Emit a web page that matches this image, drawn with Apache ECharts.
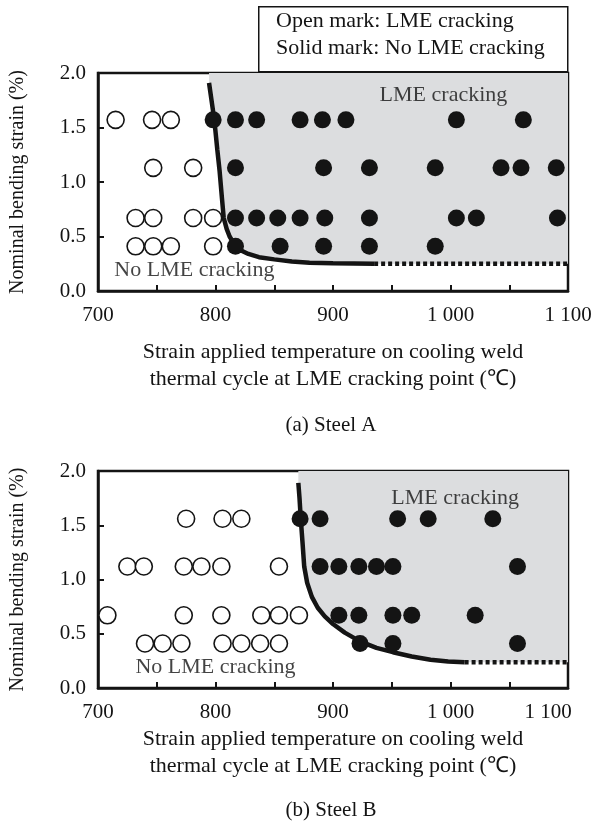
<!DOCTYPE html>
<html>
<head>
<meta charset="utf-8">
<script src="https://cdn.jsdelivr.net/npm/echarts@6/dist/echarts.min.js"></script>
<style>
html,body{margin:0;padding:0;background:#fff;}
#main{width:609px;height:825px;}
</style>
</head>
<body>
<div id="main"></div>
<script>
// Steel A: open mark (temperature, strain)
var openA = [[715,1.57],[746,1.57],[762,1.57],
  [747,1.13],[781,1.13],
  [732,0.67],[747,0.67],[781,0.67],[798,0.67],
  [732,0.41],[747,0.41],[762,0.41],[798,0.41]];
// Steel A: solid mark
var solidA = [[798,1.57],[817,1.57],[835,1.57],[872,1.57],[891,1.57],[911,1.57],[1005,1.57],[1062,1.57],
  [817,1.13],[892,1.13],[931,1.13],[987,1.13],[1043,1.13],[1060,1.13],[1090,1.13],
  [817,0.67],[835,0.67],[853,0.67],[872,0.67],[893,0.67],[931,0.67],[1005,0.67],[1022,0.67],[1091,0.67],
  [817,0.41],[855,0.41],[892,0.41],[931,0.41],[987,0.41]];
// Steel A: boundary curve and dotted limit
var curveA = [[794.5,1.91],[797,1.72],[799,1.57],[801.5,1.3],[803.5,1.1],[805.5,0.85],[807,0.67],
  [809.5,0.57],[812,0.5],[816,0.43],[820,0.38],[828,0.34],[837,0.31],[850,0.29],[865,0.27],
  [880,0.26],[900,0.254],[935,0.25]];
var dashA = [[935,0.25],[1100,0.25]];

// Steel B: open mark
var openB = [[775,1.56],[806,1.56],[822,1.56],
  [725,1.12],[739,1.12],[773,1.12],[788,1.12],[805,1.12],[854,1.12],
  [708,0.67],[773,0.67],[805,0.67],[839,0.67],[854,0.67],[871,0.67],
  [740,0.41],[755,0.41],[771,0.41],[806,0.41],[822,0.41],[838,0.41],[854,0.41]];
// Steel B: solid mark
var solidB = [[872,1.56],[889,1.56],[955,1.56],[981,1.56],[1036,1.56],
  [889,1.12],[905,1.12],[922,1.12],[937,1.12],[951,1.12],[1057,1.12],
  [905,0.67],[922,0.67],[951,0.67],[967,0.67],[1021,0.67],
  [923,0.41],[951,0.41],[1057,0.41]];
var curveB = [[870.5,1.89],[871.5,1.75],[872.5,1.57],[874,1.35],[875.5,1.12],[878,0.97],[882,0.84],
  [887,0.74],[893,0.66],[900,0.59],[910,0.51],[923,0.43],[937,0.37],[951,0.33],[967,0.29],
  [983,0.26],[998,0.245],[1012,0.237]];
var dashB = [[1012,0.237],[1100,0.237]];

// region texts
var regionA = [{name:'LME cracking', value:[994,1.80]},{name:'No LME cracking', value:[782,0.19]}];
var regionB = [{name:'LME cracking', value:[1004,1.75]},{name:'No LME cracking', value:[800,0.19]}];

var xTickValues = [700, 800, 900, 1000, 1100];
var xTickLabels = ['700', '800', '900', '1 000', '1 100'];
var yTickLabels = ['0.0', '0.5', '1.0', '1.5', '2.0'];

var FONT = 'Liberation Serif, Times New Roman, serif';
var INK = '#141414';

function xAxisOf(idx, gap, shiftLast){
  return {
    type:'value', gridIndex:idx, min:700, max:1100, interval:50,
    axisLine:{show:true, lineStyle:{color:INK, width:2.5}},
    axisTick:{show:true, inside:true, length:6, lineStyle:{color:INK, width:2}},
    splitLine:{show:false},
    axisLabel:{
      margin:14, color:INK, fontFamily:FONT, fontSize:21,
      formatter:function(v){
        var i = xTickValues.indexOf(v);
        if (i < 0) return '';
        if (shiftLast && i === xTickValues.length - 1) return '{s|' + xTickLabels[i] + '}';
        return xTickLabels[i];
      },
      rich:{s:{fontFamily:FONT, fontSize:21, color:INK, padding:[0,40,0,0]}}
    },
    name:'Strain applied temperature on cooling weld\nthermal cycle at LME cracking point (\u2103)',
    nameLocation:'middle', nameGap:gap,
    nameTextStyle:{color:INK, fontFamily:FONT, fontSize:22, lineHeight:27}
  };
}
function yAxisOf(idx){
  return {
    type:'value', gridIndex:idx, min:0, max:2, interval:0.5,
    axisLine:{show:true, lineStyle:{color:INK, width:2.5}},
    axisTick:{show:true, inside:true, length:6, lineStyle:{color:INK, width:2}},
    splitLine:{show:false},
    axisLabel:{margin:12, color:INK, fontFamily:FONT, fontSize:21,
      formatter:function(v){ return yTickLabels[Math.round(v / 0.5)]; }},
    name:'Nominal bending strain (%)', nameLocation:'middle', nameRotate:90, nameGap:70,
    nameTextStyle:{color:INK, fontFamily:FONT, fontSize:20}
  };
}

function panelSeries(idx, open, solid, curve, dash, region){
  var last = dash[dash.length - 1];
  return [
    { // shaded cracking area, filled up to the top of the axis
      type:'line', xAxisIndex:idx, yAxisIndex:idx, data:curve.concat([last]),
      symbol:'none', silent:true, z:1,
      lineStyle:{width:0}, areaStyle:{color:'#dcdddf', opacity:1, origin:'end'}
    },
    {
      type:'line', xAxisIndex:idx, yAxisIndex:idx, data:curve, symbol:'none', z:3,
      lineStyle:{color:INK, width:4.5}
    },
    {
      type:'line', xAxisIndex:idx, yAxisIndex:idx, data:dash, symbol:'none', z:3,
      lineStyle:{color:INK, width:4.5, type:[4,3]}
    },
    {
      type:'scatter', xAxisIndex:idx, yAxisIndex:idx, data:open, symbol:'circle', symbolSize:17, z:4,
      itemStyle:{color:'#fff', borderColor:INK, borderWidth:1.6, opacity:1}
    },
    {
      type:'scatter', xAxisIndex:idx, yAxisIndex:idx, data:solid, symbol:'circle', symbolSize:17, z:4,
      itemStyle:{color:INK, opacity:1}
    },
    {
      type:'scatter', xAxisIndex:idx, yAxisIndex:idx, data:region, symbolSize:0, z:5, silent:true,
      label:{show:true, position:'inside', formatter:'{b}', color:INK, fontFamily:FONT, fontSize:22}
    }
  ];
}

var myChart = echarts.init(document.getElementById('main'));
var option = {
  animation:false,
  backgroundColor:'#fff',
  grid:[
    {left:95, top:73, width:473, height:218, show:true, borderColor:INK, borderWidth:2.5, backgroundColor:'transparent'},
    {left:95, top:471, width:473, height:217, show:true, borderColor:INK, borderWidth:2.5, backgroundColor:'transparent'}
  ],
  xAxis:[xAxisOf(0, 48, false), xAxisOf(1, 38, true)],
  yAxis:[yAxisOf(0), yAxisOf(1)],
  series:panelSeries(0, openA, solidA, curveA, dashA, regionA)
    .concat(panelSeries(1, openB, solidB, curveB, dashB, regionB)),
  graphic:[
    {type:'rect', left:258, top:6, shape:{width:309, height:65},
      style:{fill:'#fff', stroke:INK, lineWidth:1.5}, z:10},
    {type:'text', left:276, top:10, z:11,
      style:{text:'Open mark: LME cracking', font:'22px ' + FONT, fill:INK}},
    {type:'text', left:276, top:37, z:11,
      style:{text:'Solid mark: No LME cracking', font:'22px ' + FONT, fill:INK}},
    {type:'text', x:331, y:425, z:11,
      style:{text:'(a) Steel A', font:'21px ' + FONT, fill:INK, align:'center', verticalAlign:'middle'}},
    {type:'text', x:331, y:810, z:11,
      style:{text:'(b) Steel B', font:'21px ' + FONT, fill:INK, align:'center', verticalAlign:'middle'}}
  ]
};
myChart.setOption(option);
</script>
</body>
</html>
